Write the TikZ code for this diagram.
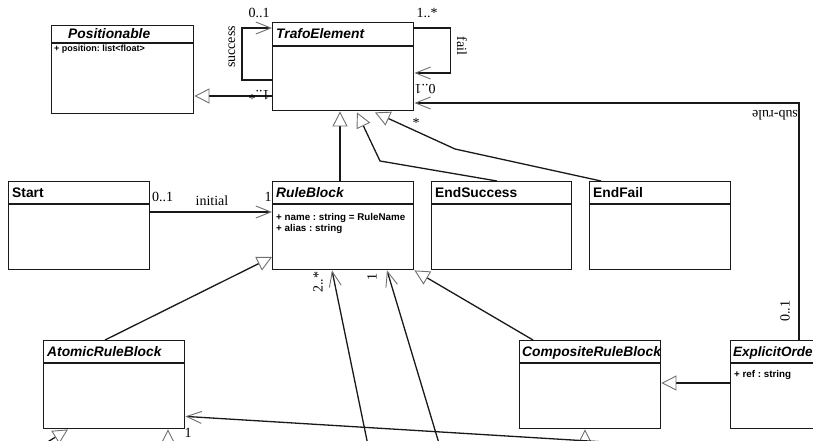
\documentclass[tikz,border=0pt]{standalone}
\usepackage{fontspec}
\setmainfont{Liberation Serif}
\newfontfamily\umlsans{Liberation Sans}
\usetikzlibrary{arrows.meta,calc}
\frenchspacing

\definecolor{boxline}{HTML}{1A1A1A}
\definecolor{headgray}{HTML}{707070}

\tikzset{
  classbox/.style={draw=boxline, line width=1.4pt, fill=white, rectangle,
    minimum width=141pt, minimum height=88pt, inner sep=0pt, anchor=north west},
  sepline/.style={draw=boxline, line width=1.2pt},
  ctitle/.style={anchor=base west, inner sep=0pt,
    font=\umlsans\bfseries\fontsize{13.8}{16}\selectfont},
  atitle/.style={anchor=base west, inner sep=0pt,
    font=\umlsans\bfseries\itshape\fontsize{13.8}{16}\selectfont},
  attr/.style={anchor=base west, inner sep=0pt,
    font=\umlsans\bfseries\fontsize{9.8}{11}\selectfont},
  mult/.style={inner sep=0pt, font=\fontsize{14}{16}\selectfont},
  link/.style={draw=black!90, line width=1.3pt},
  nav/.style={link, -{Straight Barb[length=15pt, width=12pt, line width=0.9pt, color=headgray]}},
  gen/.style={link, -{Triangle[open, length=15pt, width=15pt, line width=0.9pt, color=headgray, fill=white]}},
}

\begin{document}
\begin{tikzpicture}[x=1pt, y=-1pt]
\useasboundingbox (0,0) rectangle (813,441);
\fill[white] (0,0) rectangle (813,441);
\clip (0,0) rectangle (813,441);

% ---------- classes ----------
\node[classbox, minimum width=142pt] (pos) at (51,25) {};
\draw[sepline] ([yshift=-18pt]pos.north west) -- ([yshift=-18pt]pos.north east);
\node[atitle] (posT) at (68,39) {Positionable};
\node[attr, font=\umlsans\bfseries\fontsize{9}{10}\selectfont] (posA) at (54,52) {+ position: list<float>};

\node[classbox] (trafo) at (272,22) {};
\draw[sepline] ([yshift=-24pt]trafo.north west) -- ([yshift=-24pt]trafo.north east);
\node[atitle] (trafoT) at (276,39) {TrafoElement};

\node[classbox] (start) at (8,181) {};
\draw[sepline] ([yshift=-23pt]start.north west) -- ([yshift=-23pt]start.north east);
\node[ctitle] (startT) at (12,197) {Start};

\node[classbox] (rule) at (272,181) {};
\draw[sepline] ([yshift=-23pt]rule.north west) -- ([yshift=-23pt]rule.north east);
\node[atitle] (ruleT) at (276,197) {RuleBlock};
\node[attr] (ruleA) at (276,220) {+ name : string = RuleName};
\node[attr] (ruleB) at (276,231) {+ alias : string};

\node[classbox, minimum width=140pt] (endS) at (431,181) {};
\draw[sepline] ([yshift=-23pt]endS.north west) -- ([yshift=-23pt]endS.north east);
\node[ctitle] (endST) at (435,197) {EndSuccess};

\node[classbox] (endF) at (589,181) {};
\draw[sepline] ([yshift=-23pt]endF.north west) -- ([yshift=-23pt]endF.north east);
\node[ctitle] (endFT) at (593,197) {EndFail};

\node[classbox] (atomic) at (43,340) {};
\draw[sepline] ([yshift=-23pt]atomic.north west) -- ([yshift=-23pt]atomic.north east);
\node[atitle] (atomicT) at (47,356) {AtomicRuleBlock};

\node[classbox] (comp) at (519,340) {};
\draw[sepline] ([yshift=-23pt]comp.north west) -- ([yshift=-23pt]comp.north east);
\node[atitle] (compT) at (522,356) {CompositeRuleBlock};

\node[classbox] (expl) at (730,340) {};
\draw[sepline] ([yshift=-23pt]expl.north west) -- ([yshift=-23pt]expl.north east);
\node[atitle, font=\umlsans\bfseries\itshape\fontsize{13.5}{16}\selectfont] (explT) at (733,356) {ExplicitOrde};
\node[attr] (explA) at (734,377) {+ ref : string};

% ---------- bends and loose ends ----------
\coordinate (bendS) at (380,161);
\coordinate (bendF) at (455,149);
\coordinate (offA) at (371,460);
\coordinate (offB) at (444,460);
\coordinate (offC) at (900,460);
\coordinate (offD) at (585,470);
\coordinate (offE) at (168,470);
\coordinate (offF) at (2,470);

% ---------- generalizations ----------
\draw[gen] ($(trafo.north west)+(0,74)$) -- ($(pos.north east)+(0,71)$);
\draw[gen] ($(rule.north west)+(68,0)$) -- ($(trafo.south west)+(68,0)$);
\draw[gen] ($(endS.north west)+(66,0)$) -- (bendS) -- ($(trafo.south west)+(85,1)$);
\draw[gen] ($(endF.north west)+(12,0)$) -- (bendF) -- ($(trafo.south west)+(103,1)$);
\draw[gen] ($(atomic.north west)+(62,0)$) -- ($(rule.north west)+(0,76)$);
\draw[gen] ($(comp.north west)+(14,0)$) -- (rule.south east);
\draw[gen] ($(expl.north west)+(0,43)$) -- ($(comp.north east)+(0,43)$);
\draw[gen] (offD) -- ($(comp.south west)+(66,0)$);
\draw[gen] (offE) -- ($(atomic.south west)+(125,0)$);
\draw[gen] (offF) -- ($(atomic.south west)+(25,0)$);

% ---------- associations ----------
\draw[nav] ($(trafo.north west)+(0,58)$) -| ($(trafo.north west)+(-30,6)$) -- ($(trafo.north west)+(0,6)$);
\draw[nav] ($(trafo.north east)+(0,6)$) -| ($(trafo.north east)+(36,51)$) -- ($(trafo.north east)+(0,51)$);
\draw[nav] ($(expl.north west)+(69,0)$) |- ($(trafo.north east)+(0,81)$);
\draw[nav] ($(start.north east)+(0,31)$) -- ($(rule.north west)+(0,31)$);
\draw[nav] (offA) -- ($(rule.south west)+(60,0)$);
\draw[nav] (offB) -- ($(rule.south west)+(115,0)$);
\draw[nav] (offC) -- ($(atomic.south east)+(0,-13)$);

% ---------- role names and multiplicities ----------
\node[mult, anchor=base] (mSuccA) at (259,18) {0..1};
\node[mult, rotate=90] (mSucc) at (232,47) {success};
\node[mult, anchor=base] (mFailA) at (427,18) {1..*};
\node[mult, rotate=-90] (mFail) at (462,46) {fail};
\node[mult, rotate=180] (mFailB) at (425,89) {0..1};
\node[mult, rotate=180] (mPos) at (259,95) {1..*};
\node[mult, rotate=180] (mSub) at (775,115) {sub-rule};
\node[mult, rotate=90] (mSubB) at (785,311) {0..1};
\node[mult] (mStar) at (416,123) {*};
\node[mult, anchor=base west] (mInitA) at (152,201) {0..1};
\node[mult, anchor=base] (mInit) at (212,205) {initial};
\node[mult, anchor=base] (mInitB) at (268,201) {1};
\node[mult, rotate=90] (mTwo) at (318,282) {2..*};
\node[mult, rotate=90] (mOne) at (372,277) {1};
\node[mult] (mAtom) at (188,433) {1};
\end{tikzpicture}
\end{document}
